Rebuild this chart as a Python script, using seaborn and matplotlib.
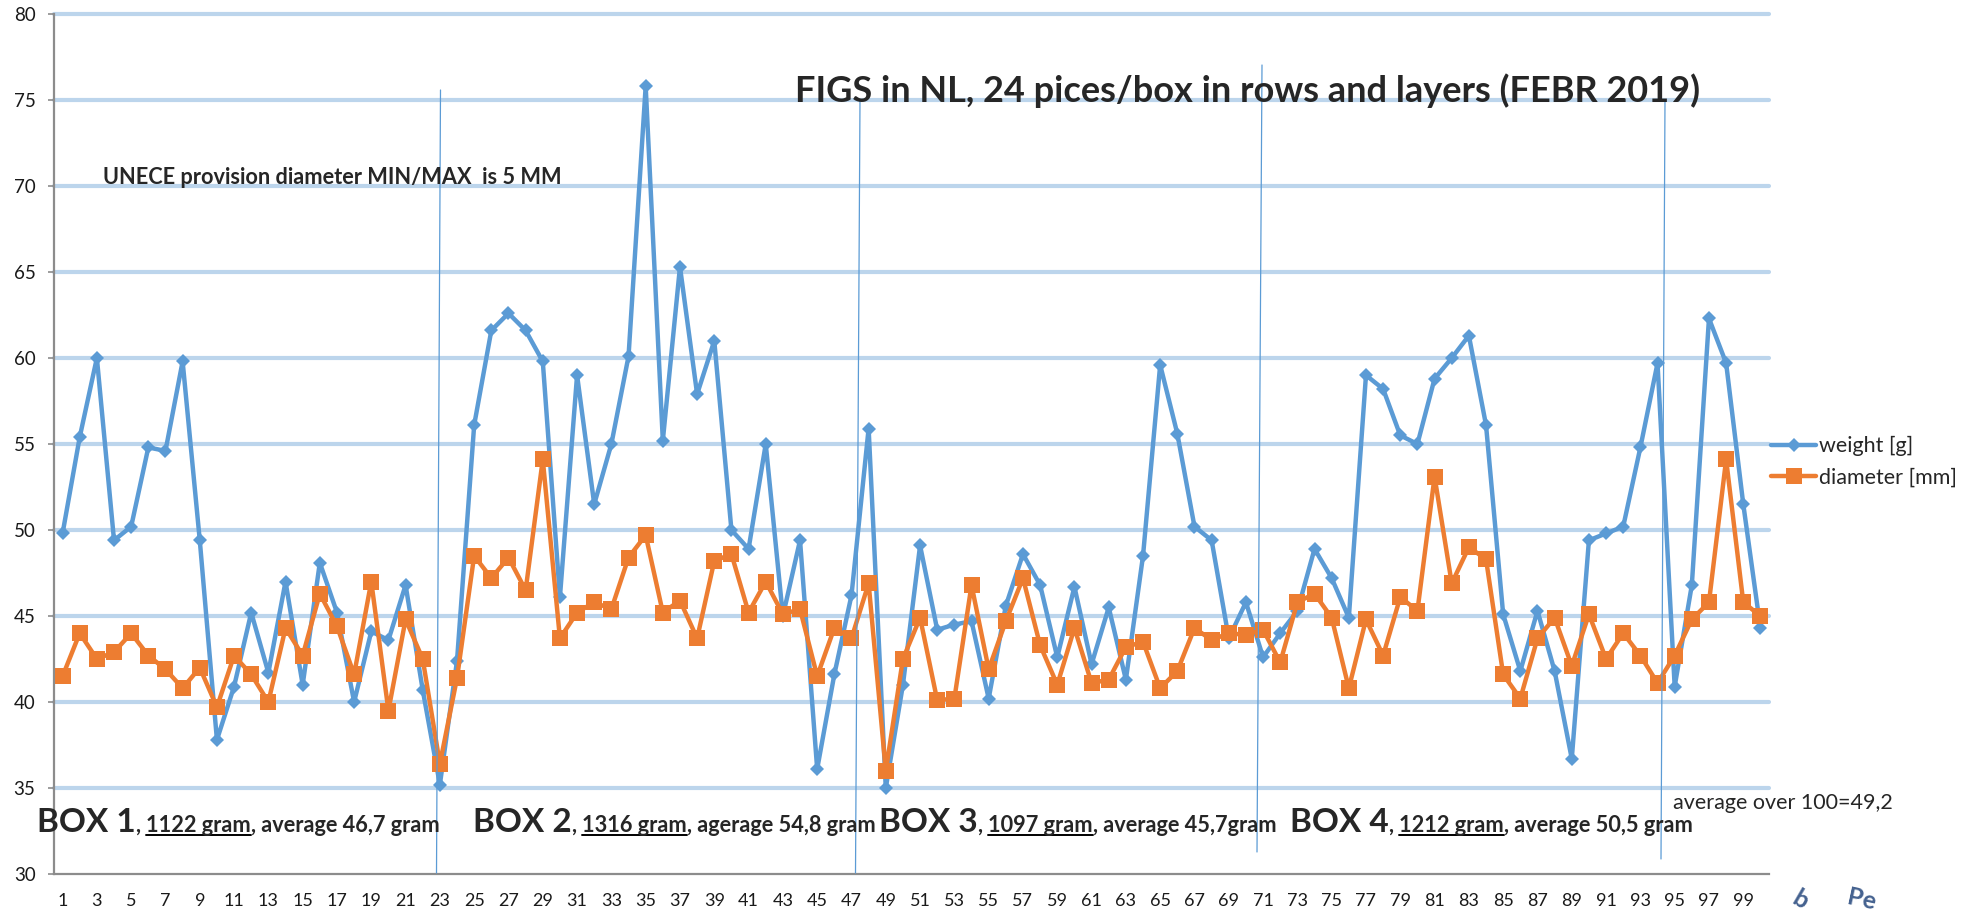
import matplotlib
matplotlib.use('Agg')
import numpy as np
import pandas as pd
import seaborn as sns
import matplotlib.pyplot as plt
from matplotlib.lines import Line2D

# figure size in pixels (dpi 100)
W, H = 1965, 915

pieces = list(range(1, 101))

weight = [49.8, 55.4, 60.0, 49.4, 50.2, 54.8, 54.6, 59.8, 49.4, 37.8,
          40.9, 45.2, 41.7, 47.0, 41.0, 48.1, 45.2, 40.0, 44.1, 43.6,
          46.8, 40.7, 35.2, 42.4, 56.1, 61.6, 62.6, 61.6, 59.8, 46.1,
          59.0, 51.5, 55.0, 60.1, 75.8, 55.2, 65.3, 57.9, 61.0, 50.0,
          48.9, 55.0, 45.0, 49.4, 36.1, 41.6, 46.2, 55.9, 35.0, 41.0,
          49.1, 44.2, 44.5, 44.7, 40.2, 45.6, 48.6, 46.8, 42.6, 46.7,
          42.2, 45.5, 41.3, 48.5, 59.6, 55.6, 50.2, 49.4, 43.7, 45.8,
          42.6, 44.0, 45.3, 48.9, 47.2, 44.9, 59.0, 58.2, 55.5, 55.0,
          58.8, 60.0, 61.3, 56.1, 45.1, 41.8, 45.3, 41.8, 36.7, 49.4,
          49.8, 50.2, 54.8, 59.7, 40.9, 46.8, 62.3, 59.7, 51.5, 44.3]

diameter = [41.5, 44.0, 42.5, 42.9, 44.0, 42.7, 41.9, 40.8, 42.0, 39.7,
            42.7, 41.6, 40.0, 44.3, 42.7, 46.3, 44.4, 41.6, 47.0, 39.5,
            44.8, 42.5, 36.4, 41.4, 48.5, 47.2, 48.4, 46.5, 54.1, 43.7,
            45.2, 45.8, 45.4, 48.4, 49.7, 45.2, 45.9, 43.7, 48.2, 48.6,
            45.2, 47.0, 45.1, 45.4, 41.5, 44.3, 43.7, 46.9, 36.0, 42.5,
            44.9, 40.1, 40.2, 46.8, 41.9, 44.7, 47.2, 43.3, 41.0, 44.3,
            41.1, 41.3, 43.2, 43.5, 40.8, 41.8, 44.3, 43.6, 44.0, 43.9,
            44.2, 42.3, 45.8, 46.3, 44.9, 40.8, 44.8, 42.7, 46.1, 45.3,
            53.1, 46.9, 49.0, 48.3, 41.6, 40.2, 43.7, 44.9, 42.1, 45.1,
            42.5, 44.0, 42.7, 41.1, 42.7, 44.8, 45.8, 54.1, 45.8, 45.0]

series_names = ['weight [g]', 'diameter [mm]']
series_colors = ['#5B9BD5', '#ED7D31']

title = 'FIGS in NL, 24 pices/box in rows and layers (FEBR 2019)'
unece_note = 'UNECE provision diameter MIN/MAX  is 5 MM'
avg_note = 'average over 100=49,2'
box_names = ['BOX 1', 'BOX 2', 'BOX 3', 'BOX 4']
box_totals = ['1122 gram', '1316 gram', '1097 gram', '1212 gram']
box_rest = [', average 46,7 gram', ', agerage 54,8 gram',
            ', average 45,7gram', ', average 50,5 gram']

sns.set_style('white')
plt.rcParams['font.family'] = ['Lato', 'DejaVu Sans']

data = pd.DataFrame({
    'piece': pieces * 2,
    'value': weight + diameter,
    'series': [series_names[0]] * len(weight) + [series_names[1]] * len(diameter),
})

fig = plt.figure(figsize=(W / 100, H / 100), dpi=100)
ax = fig.add_axes([54 / W, 1 - 874 / H, (1769 - 54) / W, (874 - 14) / H])

# horizontal grid lines (light blue, thick)
for v in range(35, 81, 5):
    ax.axhline(v, color='#BCD5EC', lw=3, zorder=0, clip_on=False)

markers = ['D', 's']
msizes = [7.5, 11]
for name, color, mk, ms in zip(series_names, series_colors, markers, msizes):
    sns.lineplot(data=data[data.series == name], x='piece', y='value',
                 color=color, marker=mk, markersize=ms, markeredgewidth=0,
                 linewidth=3.2, ax=ax, zorder=3)

ax.set_xlim(0.5, 100.5)
ax.set_ylim(30, 80)
ax.set_xlabel('')
ax.set_ylabel('')
ax.set_yticks(range(30, 81, 5))
ax.set_xticks(range(1, 101, 2))
ax.set_xticklabels([str(i) for i in range(1, 101, 2)])
ax.set_xticks(np.arange(0.5, 101, 1), minor=True)
ax.tick_params(axis='x', which='major', length=0, pad=13.5, labelsize=13,
               labelcolor='#1a1a1a')
ax.tick_params(axis='x', which='minor', length=3.6, width=1.2,
               color='#8c8c8c', direction='out')
ax.tick_params(axis='y', length=4.3, width=1.2, color='#8c8c8c', pad=9,
               labelsize=13.5, labelcolor='#1a1a1a', left=True)
for side in ['top', 'right']:
    ax.spines[side].set_visible(False)
for side in ['left', 'bottom']:
    ax.spines[side].set_color('#8c8c8c')
    ax.spines[side].set_linewidth(1.6)

# legend
handles = [Line2D([], [], color=c, lw=3.2, marker=m, markersize=s, markeredgewidth=0)
           for c, m, s in zip(series_colors, markers, msizes)]
fig.legend(handles, series_names, loc='center left',
           bbox_to_anchor=(1771 / W, 1 - 462 / H), bbox_transform=fig.transFigure,
           frameon=False, fontsize=15.5, handlelength=2.1, handletextpad=0.15,
           labelspacing=0.55, borderpad=0, borderaxespad=0, numpoints=1)

# separator lines between the boxes (figure pixels)
separators = [((440.5, 90), (436.5, 873)), ((860, 100), (855.5, 873)),
              ((1262, 65), (1257, 852)), ((1665, 100), (1661, 859))]
for (x0, y0), (x1, y1) in separators:
    fig.add_artist(Line2D([x0 / W, x1 / W], [1 - y0 / H, 1 - y1 / H],
                          color='#5B9BD5', lw=0.9, transform=fig.transFigure))

fig.text(795 / W, 1 - 102 / H, title, fontsize=26, fontweight='bold',
         va='baseline', ha='left')
fig.text(103 / W, 1 - 184 / H, unece_note, fontsize=15.7, fontweight='bold',
         va='baseline', ha='left')
fig.text(1673 / W, 1 - 809 / H, avg_note, fontsize=15.5, va='baseline', ha='left')

renderer = fig.canvas.get_renderer()


def advance(s, size):
    """Width of a string in pixels, trailing spaces included"""
    t = fig.text(0, 0, s + '|', fontsize=size, fontweight='bold')
    u = fig.text(0, 0, '|', fontsize=size, fontweight='bold')
    w = t.get_window_extent(renderer).width - u.get_window_extent(renderer).width
    t.remove()
    u.remove()
    return w


def box_label(x, y, parts):
    for s, size, under in parts:
        fig.text(x / W, 1 - y / H, s, fontsize=size, fontweight='bold',
                 va='baseline', ha='left')
        w = advance(s, size)
        if under:
            fig.add_artist(Line2D([x / W, (x + w) / W], [1 - (y + 3) / H] * 2,
                                  color='black', lw=1.4, transform=fig.transFigure))
        x += w


box_x = [37, 473, 879, 1290]
for bx, name, total, rest in zip(box_x, box_names, box_totals, box_rest):
    box_label(bx, 832, [(name, 24, False), (', ', 15.7, False),
                        (total, 15.7, True), (rest, 15.7, False)])

# partly visible watermark in the corner
fig.text(1800 / W, 1 - 900 / H, 'b', fontsize=18, fontweight='bold',
         color='#44618F', rotation=-30, ha='center', va='center')
fig.text(1862 / W, 1 - 900 / H, 'Pe', fontsize=18, fontweight='bold',
         color='#44618F', rotation=-12, ha='center', va='center')

fig.savefig('out.png', dpi=100)
